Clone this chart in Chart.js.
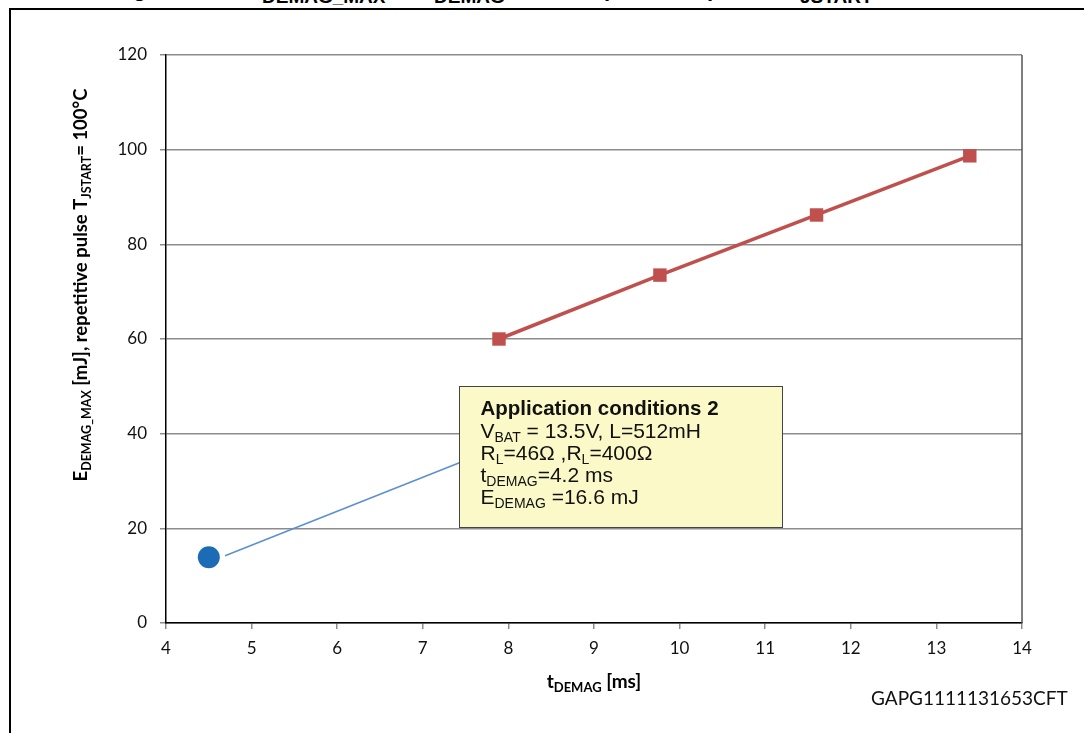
<!DOCTYPE html>
<html>
<head>
<meta charset="utf-8">
<script src="https://cdn.jsdelivr.net/npm/chart.js@4"></script>
<style>
  html, body { margin: 0; padding: 0; background: #fff; }
  #wrap { position: relative; width: 1084px; height: 733px; overflow: hidden; }
  #frame { position: absolute; left: 9px; top: 8px; width: 1100px; height: 760px;
           border-left: 2px solid #000; border-top: 2px solid #000; }
  #caption { position: absolute; left: 0; top: -10px; width: 1084px; height: 15px;
             font: bold 19px "Liberation Sans", Arial, sans-serif; color: #000; }
  #caption span { position: absolute; top: 0; line-height: 14px; }
  #code { position: absolute; left: 871px; top: 686px;
          font: 19px Lato, "Open Sans", sans-serif; color: #111; }
  canvas { position: absolute; left: 0; top: 0; }
</style>
</head>
<body>
<div id="wrap">
  <div id="caption">
    <span style="left:133px;top:-8px;font-size:22px">g</span>
    <span style="left:262px">DEMAG_MAX</span>
    <span style="left:434px">DEMAG</span>
    <span style="left:604px;top:-8px;font-size:22px">p</span>
    <span style="left:707px;top:-8px;font-size:22px">p</span>
    <span style="left:800px">JSTART</span>
  </div>
  <div id="frame"></div>
  <canvas id="chart" width="1084" height="733"></canvas>
  <div id="code">GAPG1111131653CFT</div>
</div>
<script>
"use strict";

// x: t_DEMAG [ms], y: E_DEMAG_MAX [mJ]
const X_TICKS = [4, 5, 6, 7, 8, 9, 10, 11, 12, 13, 14];
const Y_TICKS = [0, 20, 40, 60, 80, 100, 120];

const repT = [7.89, 9.77, 11.6, 13.39];
const repE = [60.0, 73.5, 86.2, 98.7];

const appT = [4.5];
const appE = [13.9];

// leader from the application point to the note box
const leaderT = [4.69, 7.45];
const leaderE = [14.2, 34.0];

const NOTE_TITLE = "Application conditions 2";
const NOTE_LINES = [
  [["V"], ["BAT", true], [" = 13.5V, L=512mH"]],
  [["R"], ["L", true], ["=46\u03A9 ,R"], ["L", true], ["=400\u03A9"]],
  [["t"], ["DEMAG", true], ["=4.2 ms"]],
  [["E"], ["DEMAG", true], [" =16.6 mJ"]],
];
// note box corners, in axis units
const NOTE_BOX = { x0: 7.42, x1: 11.2, yTop: 50.1, yBottom: 20.3 };

const TICK_FONT = { family: "Lato, 'Open Sans', sans-serif", size: 17 };
const GRID_GRAY = "#8c8c8c";

function toPoints(xs, ys) {
  return xs.map((x, i) => ({ x, y: ys[i] }));
}

function drawRuns(ctx, runs, x, y, base, sub, weight, family) {
  for (const [text, isSub] of runs) {
    ctx.font = `${weight} ${isSub ? sub : base}px ${family}`;
    ctx.fillText(text, x, isSub ? y + base * 0.22 : y);
    x += ctx.measureText(text).width;
  }
  return x;
}

function runsWidth(ctx, runs, base, sub, weight, family) {
  let w = 0;
  for (const [text, isSub] of runs) {
    ctx.font = `${weight} ${isSub ? sub : base}px ${family}`;
    w += ctx.measureText(text).width;
  }
  return w;
}

const extrasPlugin = {
  id: "extras",
  afterDatasetsDraw(chart) {
    const { ctx, chartArea, scales } = chart;
    const sx = scales.x, sy = scales.y;

    // right frame of the plot
    ctx.save();
    ctx.strokeStyle = "#555";
    ctx.lineWidth = 1.5;
    ctx.beginPath();
    ctx.moveTo(chartArea.right, chartArea.top);
    ctx.lineTo(chartArea.right, chartArea.bottom);
    ctx.stroke();

    // note box
    const bx = Math.round(sx.getPixelForValue(NOTE_BOX.x0)) + 0.5;
    const bx1 = Math.round(sx.getPixelForValue(NOTE_BOX.x1)) + 0.5;
    const by = Math.round(sy.getPixelForValue(NOTE_BOX.yTop)) + 0.5;
    const by1 = Math.round(sy.getPixelForValue(NOTE_BOX.yBottom)) + 0.5;
    ctx.fillStyle = "#fbf9c7";
    ctx.fillRect(bx, by, bx1 - bx, by1 - by);
    ctx.strokeStyle = "#444";
    ctx.lineWidth = 1;
    ctx.strokeRect(bx, by, bx1 - bx, by1 - by);

    const fam = "'Liberation Sans', Arial, sans-serif";
    ctx.fillStyle = "#111";
    ctx.textBaseline = "alphabetic";
    ctx.textAlign = "left";
    ctx.font = `bold 20.5px ${fam}`;
    ctx.fillText(NOTE_TITLE, bx + 21, by + 28);
    NOTE_LINES.forEach((runs, i) => {
      drawRuns(ctx, runs, bx + 21, by + 51 + i * 22, 21, 14, "normal", fam);
    });
    ctx.restore();
  },
  afterDraw(chart) {
    const { ctx, chartArea } = chart;
    const fam = "Lato, 'Open Sans', sans-serif";
    ctx.save();
    ctx.fillStyle = "#000";
    ctx.textBaseline = "alphabetic";
    ctx.textAlign = "left";

    // x axis title
    const xRuns = [["t"], ["DEMAG", true], [" [ms]"]];
    const xw = runsWidth(ctx, xRuns, 19, 13, "bold", fam);
    drawRuns(ctx, xRuns, (chartArea.left + chartArea.right) / 2 - xw / 2, 688, 19, 13, "bold", fam);

    // y axis title, rotated
    const yRuns = [["E"], ["DEMAG_MAX", true], [" [mJ], repetitive pulse T"], ["JSTART", true], ["= 100\u00B0C"]];
    const yw = runsWidth(ctx, yRuns, 18.5, 12.5, "bold", fam);
    ctx.translate(87, 285);
    ctx.rotate(-Math.PI / 2);
    drawRuns(ctx, yRuns, -yw / 2, 0, 18.5, 12.5, "bold", fam);
    ctx.restore();
  },
};

const chart = new Chart(document.getElementById("chart"), {
  type: "scatter",
  data: {
    datasets: [
      {
        label: "leader",
        data: toPoints(leaderT, leaderE),
        showLine: true,
        borderColor: "#5b8fd4",
        borderWidth: 1.5,
        pointRadius: 0,
      },
      {
        label: "Application conditions 2",
        data: toPoints(appT, appE),
        backgroundColor: "#1c6cb5",
        borderColor: "#1c6cb5",
        pointRadius: 11,
        pointBorderWidth: 0,
      },
      {
        label: "repetitive pulse",
        data: toPoints(repT, repE),
        showLine: true,
        borderColor: "#c0504d",
        borderWidth: 3.5,
        backgroundColor: "#c0504d",
        pointStyle: "rect",
        pointRadius: 9.5,
        pointBorderWidth: 0,
      },
    ],
  },
  options: {
    responsive: false,
    animation: false,
    events: [],
    layout: { padding: { top: 55, right: 62, left: 0, bottom: 0 } },
    plugins: { legend: { display: false }, tooltip: { enabled: false } },
    scales: {
      x: {
        type: "linear",
        min: X_TICKS[0],
        max: X_TICKS[X_TICKS.length - 1],
        afterBuildTicks: (s) => { s.ticks = X_TICKS.map((v) => ({ value: v })); },
        afterFit: (s) => { s.height = 110; },
        ticks: { font: TICK_FONT, color: "#111", padding: 9, maxRotation: 0 },
        grid: { drawOnChartArea: false, drawTicks: true, tickLength: 6, tickColor: GRID_GRAY, lineWidth: 1.5 },
        border: { color: "#000", width: 1.5 },
      },
      y: {
        type: "linear",
        min: Y_TICKS[0],
        max: Y_TICKS[Y_TICKS.length - 1],
        afterBuildTicks: (s) => { s.ticks = Y_TICKS.map((v) => ({ value: v })); },
        afterFit: (s) => { s.width = 166; },
        ticks: { font: TICK_FONT, color: "#111", padding: 13 },
        grid: { color: GRID_GRAY, lineWidth: 1.5, tickLength: 6, tickColor: GRID_GRAY },
        border: { color: "#000", width: 1.5 },
      },
    },
  },
  plugins: [extrasPlugin],
});
</script>
</body>
</html>
